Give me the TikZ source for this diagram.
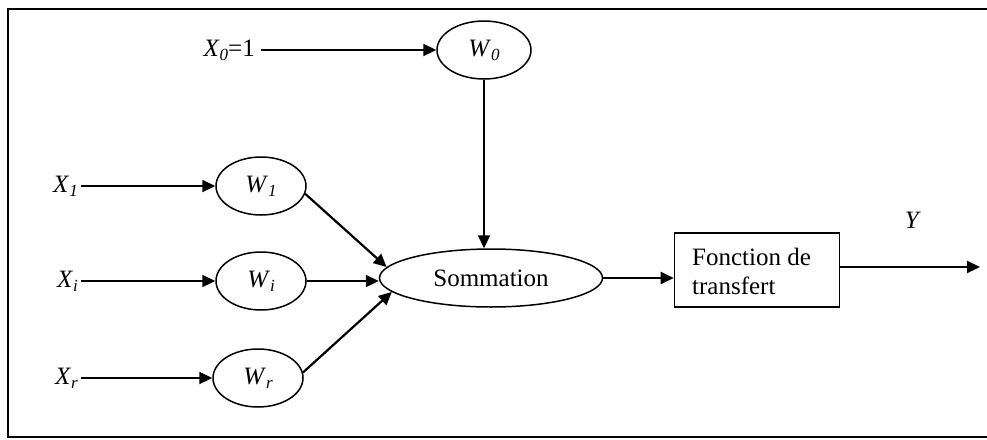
\documentclass[tikz,border=0pt]{standalone}
\usepackage{fontspec}
\setmainfont{Liberation Serif}
\usetikzlibrary{arrows.meta,shapes.geometric}
\newcommand{\lsub}[1]{\raisebox{-0.16em}{\fontsize{17}{17}\selectfont\textit{#1}}}
\tikzset{
  wt/.style={draw, line width=1.5pt, ellipse, minimum width=90pt, minimum height=58pt, inner sep=0pt},
  lbl/.style={inner sep=0pt, anchor=east},
  conn/.style={line width=2.2pt, -{Triangle[length=13pt,width=12pt]}}
}
\begin{document}
\begin{tikzpicture}[x=1pt,y=-1pt,font=\fontsize{25}{29}\selectfont]
\useasboundingbox (0,0) rectangle (987,439);
% outer frame (open on the right)
\draw[line width=2pt] (995,9) -- (8,9) -- (8,437) -- (995,437);

% weights
\node[wt, minimum width=94pt] (W0) at (484,50) {\textit{W}\lsub{0}};
\node[wt] (W1) at (261,186) {\textit{W}\lsub{1}};
\node[wt] (Wi) at (261,281) {\textit{W}\lsub{i}};
\node[wt] (Wr) at (258,378) {\textit{W}\lsub{r}};

% inputs
\node[lbl] (X0) at (255,50) {\textit{X}\lsub{0}=1};
\node[lbl] (X1) at (78,186) {\textit{X}\lsub{1}};
\node[lbl] (Xi) at (78,281) {\textit{X}\lsub{i}};
\node[lbl] (Xr) at (78,378) {\textit{X}\lsub{r}};

% summation and transfer function
\node[draw, line width=1.5pt, ellipse, minimum width=223pt, minimum height=58pt, inner sep=0pt] (S) at (491,278) {Sommation};
\node[draw, line width=1.6pt, minimum width=165pt, minimum height=74pt, inner sep=0pt] (F) at (757,270) {};
\node[anchor=west, inner sep=0pt, align=left] (Ft) at (692,271) {Fonction de\\transfert};

\coordinate (out) at (980,267);
\node[inner sep=0pt] (Y) at (913,220) {\textit{Y}};

% connectors
\draw[conn, shorten <=6pt] (X0.east) -- (W0.west);
\draw[conn, shorten <=3pt] (X1.east) -- (W1.west);
\draw[conn, shorten <=3pt] (Xi.east) -- (Wi.west);
\draw[conn, shorten <=3pt] (Xr.east) -- (Wr.west);
\draw[conn] (W0.south) -- (W0.south |- S.north);
\draw[conn] (W1.-10) -- (S.174);
\draw[conn] (Wi.east) -- (Wi.east -| S.west);
\draw[conn] (Wr.7) -- (S.188);
\draw[conn] (S.east) -- (S.east -| F.west);
\draw[conn] (F.east |- out) -- (out);
\end{tikzpicture}
\end{document}
